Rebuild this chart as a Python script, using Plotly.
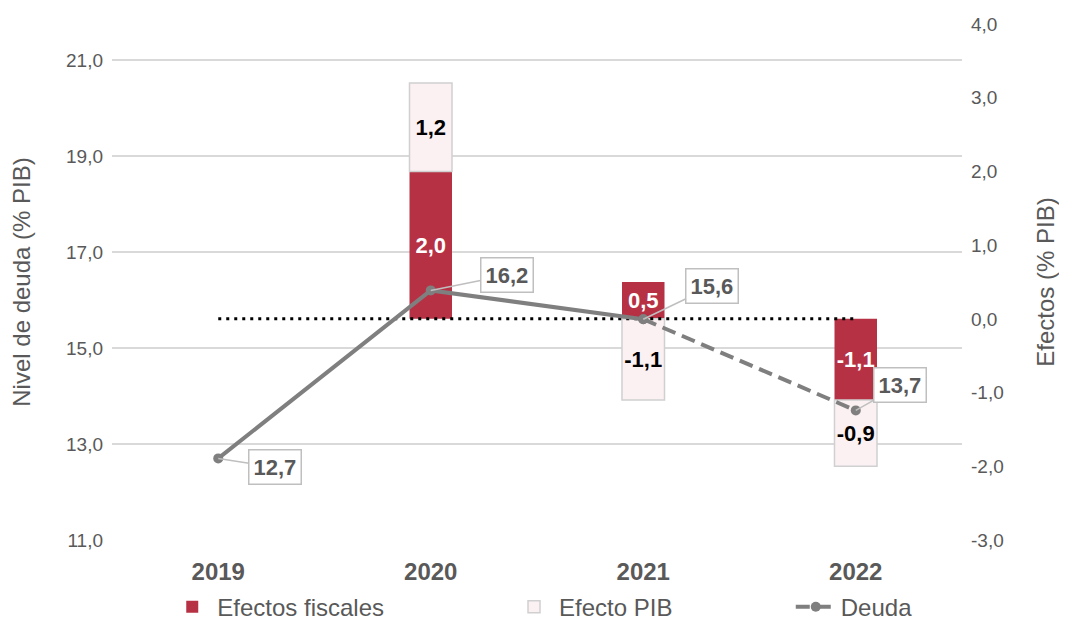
import plotly.graph_objects as go

years = ["2019", "2020", "2021", "2022"]
debt = [12.7, 16.2, 15.6, 13.7]
bar_years = ["2020", "2021", "2022"]
fiscal = [2.0, 0.5, -1.1]
pib = [1.2, -1.1, -0.9]
zero_line = [0.0, 0.0, 0.0, 0.0]
left_ticks = [11, 13, 15, 17, 19, 21]
right_ticks = [-3, -2, -1, 0, 1, 2, 3, 4]
label_offsets = [(57, 9), (76, -15), (69, -33), (44, -25)]

NB = "\u00a0"


def fmt(v):
    return f"{v:.1f}".replace(".", ",")


GRAY = "#595959"
RED = "#B73145"
FONT = "Liberation Sans"

fig = go.Figure()

fig.add_trace(go.Bar(
    x=bar_years, y=fiscal, name="Efectos fiscales" + NB * 18, yaxis="y",
    marker=dict(color=RED, line=dict(width=0)), width=0.2,
    text=[fmt(v) for v in fiscal], textposition="inside", insidetextanchor="middle",
    constraintext="none", textangle=0,
    textfont=dict(color="white", size=22, family=FONT, weight="bold"),
))
fig.add_trace(go.Bar(
    x=bar_years, y=pib, name="Efecto PIB" + NB * 17, yaxis="y",
    marker=dict(color="#FBF1F2", line=dict(color="#D0D0D0", width=1.5)), width=0.2,
    text=[fmt(v) for v in pib], textposition="inside", insidetextanchor="middle",
    constraintext="none", textangle=0,
    textfont=dict(color="black", size=22, family=FONT, weight="bold"),
))
fig.add_trace(go.Scatter(
    x=years, y=zero_line, yaxis="y", mode="lines", showlegend=False,
    line=dict(color="black", width=3, dash="3px,5px"), hoverinfo="skip",
))
fig.add_trace(go.Scatter(
    x=years[:3], y=debt[:3], yaxis="y2", mode="lines+markers", showlegend=False,
    line=dict(color="#7F7F7F", width=4), marker=dict(size=10, color="#7F7F7F"),
))
fig.add_trace(go.Scatter(
    x=years[2:], y=debt[2:], yaxis="y2", mode="lines+markers", name="Deuda",
    line=dict(color="#7F7F7F", width=4, dash="14px,7px"),
    marker=dict(size=10, color="#7F7F7F"),
))

for i, (v, (ax, ay)) in enumerate(zip(debt, label_offsets)):
    fig.add_annotation(
        x=i, y=v, xref="x", yref="y2", text=fmt(v),
        showarrow=True, ax=ax, ay=ay, arrowhead=0, arrowwidth=1.5,
        arrowcolor="#BFBFBF", standoff=0,
        bgcolor="white", bordercolor="#BFBFBF", borderwidth=1.5, borderpad=4,
        font=dict(size=22, color=GRAY, family=FONT, weight="bold"),
    )

fig.update_layout(
    width=1051, height=612,
    margin=dict(l=104, r=97, t=16, b=80, autoexpand=False),
    paper_bgcolor="white", plot_bgcolor="white",
    separators=",.",
    barmode="relative",
    font=dict(family=FONT, color=GRAY),
    xaxis=dict(
        type="category", categoryorder="array", categoryarray=years,
        range=[-0.5, 3.5], autorange=False, automargin=False,
        showgrid=False, showline=False, ticks="", ticklabelstandoff=15,
        tickfont=dict(size=24, color=GRAY, family=FONT, weight="bold"),
    ),
    yaxis=dict(
        side="right", range=[-3, 4], tickvals=right_ticks,
        ticktext=[fmt(v) for v in right_ticks], automargin=False,
        showgrid=False, zeroline=False, showline=False, ticklabelstandoff=8,
        tickfont=dict(size=19, color=GRAY, family=FONT),
        title=dict(text="Efectos (% PIB)", font=dict(size=24, color=GRAY, family=FONT), standoff=36),
    ),
    yaxis2=dict(
        side="left", overlaying="y", range=[11, 21.75], tickvals=left_ticks,
        ticktext=[fmt(v) for v in left_ticks], automargin=False,
        showgrid=True, gridcolor="#D9D9D9", gridwidth=1.5, zeroline=False, showline=False,
        ticklabelstandoff=8,
        tickfont=dict(size=19, color=GRAY, family=FONT),
        title=dict(text="Nivel de deuda (% PIB)", font=dict(size=24, color=GRAY, family=FONT), standoff=32),
    ),
    legend=dict(
        orientation="h", x=0.065, xanchor="left", y=-0.13, yanchor="middle",
        font=dict(size=24, color=GRAY, family=FONT),
        itemwidth=40, traceorder="normal",
    ),
    showlegend=True,
)

fig.write_html("out.html")
